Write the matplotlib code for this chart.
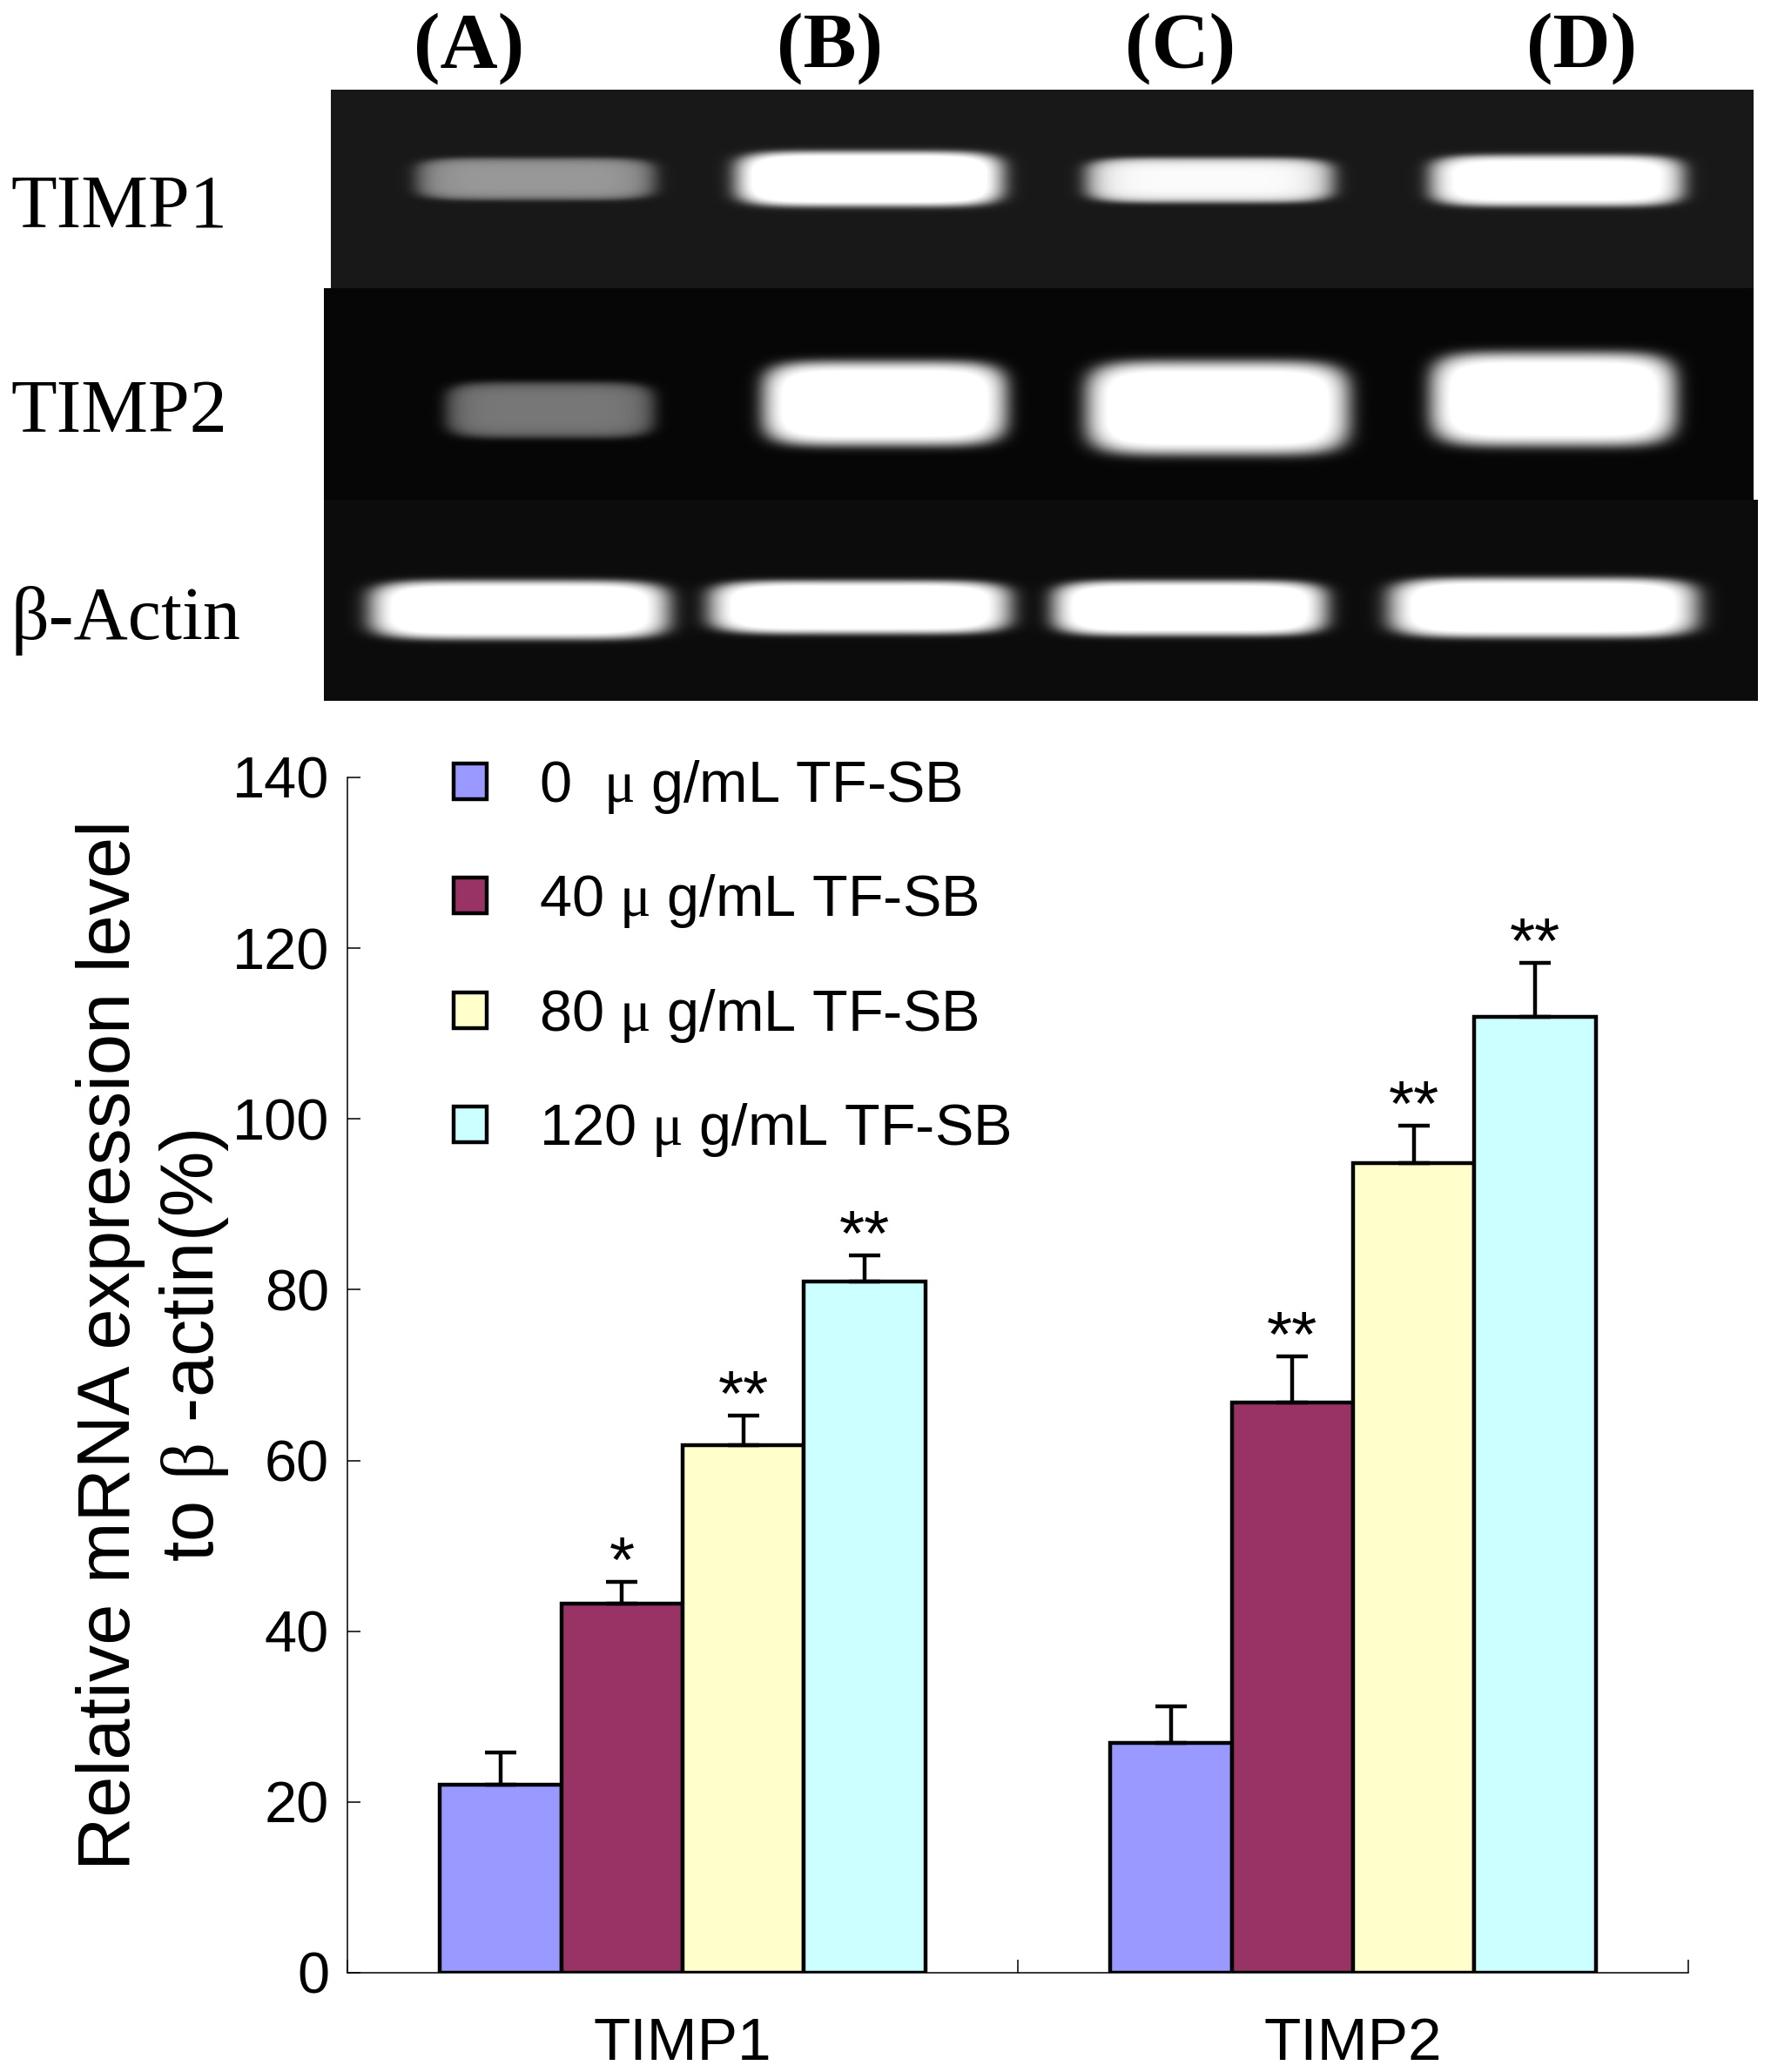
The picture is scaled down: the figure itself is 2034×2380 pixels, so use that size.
import numpy as np
import matplotlib.pyplot as plt

plt.rcParams['font.family'] = ['Liberation Sans', 'DejaVu Sans']
plt.rcParams['mathtext.fontset'] = 'custom'
plt.rcParams['mathtext.rm'] = 'Liberation Serif'
plt.rcParams['mathtext.it'] = 'Liberation Serif'
plt.rcParams['mathtext.bf'] = 'Liberation Serif:bold'

# bar chart data
genes = ['TIMP1', 'TIMP2']
dose_labels = [r'0  $\mu$ g/mL TF-SB', r'40 $\mu$ g/mL TF-SB',
               r'80 $\mu$ g/mL TF-SB', r'120 $\mu$ g/mL TF-SB']
mean_0 = [22.0, 26.9]
mean_40 = [43.2, 66.8]
mean_80 = [61.8, 94.8]
mean_120 = [81.0, 112.0]
err_0 = [3.8, 4.3]
err_40 = [2.6, 5.4]
err_80 = [3.5, 4.4]
err_120 = [3.0, 6.3]
stars_0 = ['', '']
stars_40 = ['*', '**']
stars_80 = ['**', '**']
stars_120 = ['**', '**']
colors = ['#9999FF', '#993366', '#FFFFCC', '#CCFFFF']

# gel picture data (band brightness per lane)
lane_labels = ['(A)', '(B)', '(C)', '(D)']
gel_rows = ['TIMP1', 'TIMP2', 'β-Actin']
timp1_level = [0.45, 1.0, 0.8, 0.9]
timp2_level = [0.4, 1.0, 1.0, 1.0]
actin_level = [1.0, 1.0, 1.0, 1.0]

W, H = 2034, 2380
fig = plt.figure(figsize=(W / 100, H / 100), dpi=100)

# ---- gel photo (pixel coordinates of the figure) ----
bg = fig.add_axes([0, 0, 1, 1])
bg.set_xlim(0, W)
bg.set_ylim(H, 0)
bg.axis('off')

strips = [(380, 2014, 103, 331, 0.08), (372, 2014, 331, 574, 0.02), (372, 2019, 574, 805, 0.04)]
bands = [
    [(483, 747, 182, 228), (850, 1146, 175, 235), (1252, 1526, 182, 231), (1647, 1928, 179, 235)],
    [(516, 747, 440, 501), (880, 1151, 417, 509), (1252, 1544, 417, 519), (1647, 1920, 407, 509)],
    [(430, 762, 668, 732), (820, 1154, 668, 726), (1214, 1518, 668, 728), (1601, 1943, 665, 730)],
]
levels = [timp1_level, timp2_level, actin_level]


def band(xx, yy, x0, x1, y0, y1, level):
    cx, cy = (x0 + x1) / 2, (y0 + y1) / 2
    r = (np.abs(xx - cx) / ((x1 - x0) / 2)) ** 6 + (np.abs(yy - cy) / ((y1 - y0) / 2)) ** 4
    return level / (1 + np.exp((r - 1) / 0.4))


for (sx0, sx1, sy0, sy1, base), row, lev in zip(strips, bands, levels):
    yy, xx = np.mgrid[sy0:sy1, sx0:sx1].astype(float)
    img = np.full(xx.shape, base)
    for (x0, x1, y0, y1), l in zip(row, lev):
        img += band(xx, yy, x0, x1, y0, y1, l)
    img = np.clip(img * 1.2, 0, 1)
    bg.imshow(img, cmap='gray', vmin=0, vmax=1, extent=(sx0, sx1, sy1, sy0),
              aspect='auto', interpolation='bilinear')

for lab, x in zip(lane_labels, [539, 953, 1356, 1817]):
    bg.text(x, 56, lab, family='Liberation Serif', weight='bold', fontsize=66,
            ha='center', va='center')
for lab, y in zip(gel_rows, [240, 475, 713]):
    bg.text(12, y, lab, family='Liberation Serif', fontsize=62, ha='left', va='center')

# ---- bar chart ----
ax = fig.add_axes([0.1962, 0.0479, 0.7571, 0.5769])
x = np.arange(len(genes))
width = 0.181
means = [mean_0, mean_40, mean_80, mean_120]
errs = [err_0, err_40, err_80, err_120]
stars = [stars_0, stars_40, stars_80, stars_120]

for i, (m, e, s, c, lab) in enumerate(zip(means, errs, stars, colors, dose_labels)):
    pos = x + (i - 1.5) * width
    ax.bar(pos, m, width, color=c, edgecolor='black', linewidth=3.2, label=lab,
           yerr=[np.zeros(len(e)), e], capsize=13,
           error_kw=dict(elinewidth=3.2, capthick=3.2, ecolor='black'), zorder=2)
    for p, mv, ev, st in zip(pos, m, e, s):
        if st:
            ax.text(p, mv + ev, st, ha='center', va='baseline', fontsize=54)

ax.set_xlim(-0.5, 1.5)
ax.set_ylim(0, 140)
ax.set_yticks(np.arange(0, 141, 20))
ax.set_xticks(x, genes)
ax.set_xticks([-0.5, 0.5, 1.5], minor=True)
ax.tick_params(axis='x', which='major', length=0, pad=36, labelsize=50)
ax.tick_params(axis='x', which='minor', direction='in', length=11, width=1.1)
ax.tick_params(axis='y', direction='in', length=11, width=1.1, labelsize=48, pad=15)
for side in ['top', 'right']:
    ax.spines[side].set_visible(False)
for side in ['left', 'bottom']:
    ax.spines[side].set_linewidth(1.1)

ax.set_ylabel('Relative mRNA expression level\nto $\\beta$ -actin(%)', fontsize=61,
              linespacing=1.22)
ax.yaxis.set_label_coords(-0.087, 0.525)

leg = ax.legend(loc='upper left', bbox_to_anchor=(0.079, 1.016), frameon=False,
                fontsize=48, handlelength=0.57, handleheight=0.57, handletextpad=0.9,
                labelspacing=0.98, borderpad=0, borderaxespad=0)
for h in leg.legend_handles:
    h.set_linewidth(3.2)

fig.savefig('out.png', dpi=100)
